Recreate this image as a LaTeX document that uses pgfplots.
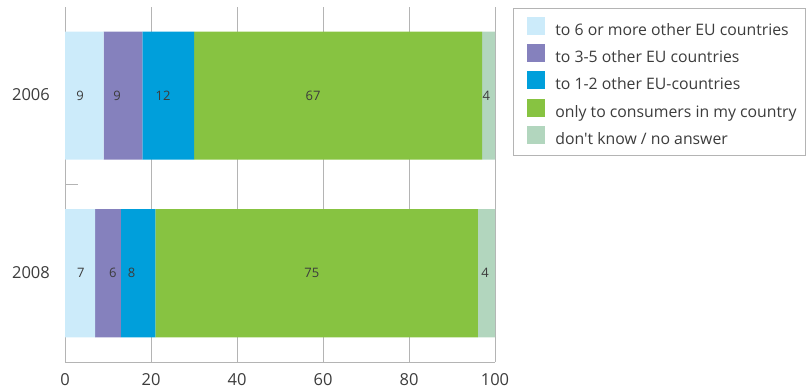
\documentclass[border=0pt]{standalone}
\usepackage{pgfplots}
\pgfplotsset{compat=1.18}
\usepackage{fontspec}
\setmainfont{Open Sans}[Ligatures=TeXOff]
\definecolor{c1}{RGB}{204,235,250}
\definecolor{c2}{RGB}{133,129,189}
\definecolor{c3}{RGB}{0,159,219}
\definecolor{c4}{RGB}{135,195,65}
\definecolor{c5}{RGB}{178,214,190}
\definecolor{txt}{RGB}{60,60,60}
\definecolor{gridc}{RGB}{180,180,180}
\newcommand{\legbox}[1]{\makebox[236bp][l]{#1}}
\begin{document}
\begin{tikzpicture}
\useasboundingbox (-65bp,-26bp) rectangle (744bp,362bp);
\begin{axis}[
  at={(0,0)}, anchor=south west,
  scale only axis, width=430bp, height=355bp,
  xmin=0, xmax=100, ymin=-0.5, ymax=1.5,
  xbar stacked, bar width=128bp,
  xtick={0,20,...,100}, ytick={0,1}, yticklabels={2008,2006},
  /pgf/number format/assume math mode=true,
  xmajorgrids, grid style={gridc, line width=0.8bp},
  axis lines*=left, axis line style={gridc, line width=0.8bp},
  tick style={draw=none}, major tick length=0pt,
  extra y ticks={0.5}, extra y tick labels={},
  extra y tick style={tick style={draw=gridc, line width=0.8bp}, major tick length=13bp, tick align=inside},
  tick label style={font=\fontsize{16.5bp}{18bp}\selectfont, text=txt, inner sep=0pt},
  xticklabel style={anchor=base, yshift=-23bp},
  yticklabel style={anchor=base east, xshift=-15bp, yshift=-5bp},
  legend style={at={(axis description cs:1,1)}, anchor=north west, xshift=18bp, yshift=-1bp,
    draw=gridc, line width=0.8bp, inner xsep=14bp, inner ysep=8.5bp,
    font=\fontsize{15.8bp}{18bp}\selectfont, text=txt, row sep=6bp, column sep=10bp,
    nodes={inner sep=0pt, text height=11bp, text depth=3bp}},
  legend cell align=left,
  legend image code/.code={\fill[#1] (0bp,-3.7bp) rectangle (18bp,14.3bp);},
]
\addplot[fill=c1, draw=none] coordinates {(9,1) (7,0)};
\addplot[fill=c2, draw=none] coordinates {(9,1) (6,0)};
\addplot[fill=c3, draw=none] coordinates {(12,1) (8,0)};
\addplot[fill=c4, draw=none] coordinates {(67,1) (75,0)};
\addplot[fill=c5, draw=none] coordinates {(4,1) (4,0)};
\legend{\legbox{to 6 or more other EU countries}, \legbox{to 3-5 other EU countries}, \legbox{to 1-2 other EU-countries}, \legbox{only to consumers in my country}, \legbox{don't know / no answer}}
\draw[gridc, line width=0.8bp] (axis cs:100,-0.5) -- (axis cs:100,1.5);
\node[anchor=base west, inner sep=0pt, font=\fontsize{13bp}{15bp}\selectfont, text=txt] at (axis description cs:1,0) [xshift=25bp, yshift=-23bp] {(\%)};
\end{axis}
\begin{axis}[
  at={(0,0)}, anchor=south west,
  scale only axis, width=430bp, height=355bp,
  xmin=0, xmax=100, ymin=-0.5, ymax=1.5, hide axis,
]
\addplot[only marks, mark=*, mark size=0pt, mark options={draw=none, fill=none},
  nodes near coords, point meta=explicit symbolic,
  every node near coord/.style={anchor=base, yshift=-4.7bp, inner sep=0pt, font=\fontsize{13bp}{15bp}\selectfont, text=txt}]
  coordinates {(3.5,1)[9] (12.1,1)[9] (22.8,1)[12] (57.7,1)[67] (98,1)[4]
               (3.7,0)[7] (11.1,0)[6] (15.5,0)[8] (57.4,0)[75] (97.7,0)[4]};
\end{axis}
\end{tikzpicture}
\end{document}
